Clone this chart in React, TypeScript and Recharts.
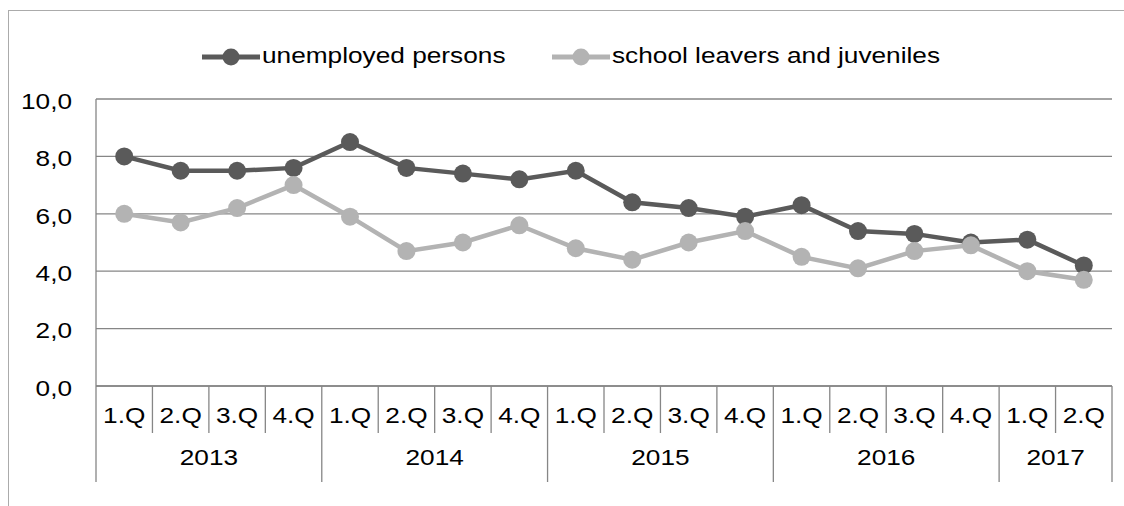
import React from 'react';
import { LineChart, Line, XAxis, YAxis, CartesianGrid, Legend } from 'recharts';

// ---------- data ----------
const quarterLabels = ['1.Q', '2.Q', '3.Q', '4.Q', '1.Q', '2.Q', '3.Q', '4.Q', '1.Q', '2.Q', '3.Q', '4.Q', '1.Q', '2.Q', '3.Q', '4.Q', '1.Q', '2.Q'];
const yearLabels = ['2013', '2014', '2015', '2016', '2017'];
const quartersPerYear = [4, 4, 4, 4, 2];
const unemployedPersons = [8.0, 7.5, 7.5, 7.6, 8.5, 7.6, 7.4, 7.2, 7.5, 6.4, 6.2, 5.9, 6.3, 5.4, 5.3, 5.0, 5.1, 4.2];
const schoolLeavers = [6.0, 5.7, 6.2, 7.0, 5.9, 4.7, 5.0, 5.6, 4.8, 4.4, 5.0, 5.4, 4.5, 4.1, 4.7, 4.9, 4.0, 3.7];
const yTicks = [0, 2, 4, 6, 8, 10];
const seriesNames = ['unemployed persons', 'school leavers and juveniles'];

// ---------- layout / style ----------
const W = 1124;
const H = 506;
const MARGIN = { top: 99, right: 12, bottom: 10, left: 16 };
const YAXIS_W = 80;
const XAXIS_H = 110;
const PLOT_W = W - MARGIN.left - YAXIS_W - MARGIN.right;
const AXIS_Y = H - MARGIN.bottom - XAXIS_H;
const FONT = '"Liberation Sans", Arial, sans-serif';
const FS = 21.5;
const SX = 1.22;
const GRID = '#868686';
const DARK = '#5a5a5a';
const LIGHT = '#b3b3b3';

// build rows
const yearIndexOf: number[] = [];
const firstOfYear: boolean[] = [];
quartersPerYear.forEach((n, yi) => {
  for (let k = 0; k < n; k++) {
    yearIndexOf.push(yi);
    firstOfYear.push(k === 0);
  }
});
const data = quarterLabels.map((q, i) => ({
  key: `${yearLabels[yearIndexOf[i]]} ${q}`,
  quarter: q,
  unemployed: unemployedPersons[i],
  school: schoolLeavers[i],
}));
const BAND = PLOT_W / data.length;

let ctx: CanvasRenderingContext2D | null = null;
function measure(text: string): number {
  if (!ctx) ctx = document.createElement('canvas').getContext('2d');
  if (!ctx) return text.length * FS * 0.5;
  ctx.font = `${FS}px "Liberation Sans"`;
  return ctx.measureText(text).width;
}

const WideText = ({ x, y, anchor, children }: any) => (
  <text
    transform={`translate(${x},${y}) scale(${SX},1)`}
    textAnchor={anchor}
    dy="0.36em"
    fontSize={FS}
    fontFamily={FONT}
    fill="#000"
  >
    {children}
  </text>
);

const XTick = (props: any) => {
  const { x, payload } = props;
  const i: number = payload.index;
  const half = BAND / 2;
  const yi = yearIndexOf[i];
  const n = quartersPerYear[yi];
  const isLast = i === data.length - 1;
  return (
    <g>
      <line
        x1={x - half}
        x2={x - half}
        y1={AXIS_Y}
        y2={AXIS_Y + (firstOfYear[i] ? 96 : 47)}
        stroke={GRID}
        strokeWidth={1.3}
      />
      {isLast && (
        <line x1={x + half} x2={x + half} y1={AXIS_Y} y2={AXIS_Y + 96} stroke={GRID} strokeWidth={1.3} />
      )}
      <WideText x={x} y={AXIS_Y + 29} anchor="middle">
        {quarterLabels[i]}
      </WideText>
      {firstOfYear[i] && (
        <WideText x={x + ((n - 1) * BAND) / 2} y={AXIS_Y + 71} anchor="middle">
          {yearLabels[yi]}
        </WideText>
      )}
    </g>
  );
};

const YTick = (props: any) => {
  const { y, payload } = props;
  const label = Number(payload.value).toFixed(1).replace('.', ',');
  return (
    <WideText x={MARGIN.left + YAXIS_W - 24} y={y + 2} anchor="end">
      {label}
    </WideText>
  );
};

const seriesStyles = [
  { name: seriesNames[0], color: DARK },
  { name: seriesNames[1], color: LIGHT },
];

const LegendContent = () => (
  <div
    style={{
      display: 'flex',
      justifyContent: 'center',
      alignItems: 'center',
      gap: 47,
      paddingLeft: 18,
      height: 26,
    }}
  >
    {seriesStyles.map((s) => (
      <div key={s.name} style={{ display: 'flex', alignItems: 'center' }}>
        <svg width={58} height={20} style={{ display: 'block' }}>
          <line x1={0} y1={10} x2={58} y2={10} stroke={s.color} strokeWidth={5} />
          <circle cx={29} cy={10} r={8.5} fill={s.color} />
        </svg>
        <span
          style={{
            display: 'inline-block',
            width: measure(s.name) * SX,
            marginLeft: 2,
            whiteSpace: 'nowrap',
            lineHeight: '26px',
          }}
        >
          <span
            style={{
              display: 'inline-block',
              transform: `scaleX(${SX})`,
              transformOrigin: '0 50%',
              fontSize: FS,
              fontFamily: FONT,
              color: '#000',
            }}
          >
            {s.name}
          </span>
        </span>
      </div>
    ))}
  </div>
);

export default function App() {
  return (
    <div
      style={{
        position: 'fixed',
        left: 0,
        top: 0,
        width: W,
        height: H,
        overflow: 'hidden',
        background: '#fff',
      }}
    >
      <div
        style={{
          position: 'absolute',
          left: 8,
          top: 10,
          width: W - 8,
          height: H - 10,
          borderTop: '1.5px solid #ababab',
          borderLeft: '1.5px solid #ababab',
          boxSizing: 'border-box',
        }}
      />
      <div style={{ position: 'absolute', left: 0, top: 0 }}>
        <LineChart width={W} height={H} data={data} margin={MARGIN}>
          <CartesianGrid horizontal vertical={false} stroke={GRID} strokeWidth={1.3} />
          <XAxis
            dataKey="key"
            type="category"
            interval={0}
            height={XAXIS_H}
            padding={{ left: BAND / 2, right: BAND / 2 }}
            tickLine={false}
            tickSize={0}
            tickMargin={0}
            axisLine={{ stroke: GRID, strokeWidth: 1.3 }}
            tick={<XTick />}
          />
          <YAxis
            width={YAXIS_W}
            domain={[0, 10]}
            ticks={yTicks}
            interval={0}
            tickLine={false}
            tickSize={0}
            tickMargin={0}
            axisLine={{ stroke: GRID, strokeWidth: 1.3 }}
            tick={<YTick />}
          />
          <Legend
            verticalAlign="middle"
            align="center"
            layout="horizontal"
            wrapperStyle={{ top: 44, left: 0, width: W }}
            content={() => <LegendContent />}
          />
          <Line
            type="linear"
            dataKey="unemployed"
            name={seriesNames[0]}
            stroke={DARK}
            strokeWidth={4.5}
            dot={{ r: 9, fill: DARK, stroke: DARK, strokeWidth: 0 }}
            activeDot={false}
            isAnimationActive={false}
          />
          <Line
            type="linear"
            dataKey="school"
            name={seriesNames[1]}
            stroke={LIGHT}
            strokeWidth={4.5}
            dot={{ r: 9, fill: LIGHT, stroke: LIGHT, strokeWidth: 0 }}
            activeDot={false}
            isAnimationActive={false}
          />
        </LineChart>
      </div>
    </div>
  );
}
